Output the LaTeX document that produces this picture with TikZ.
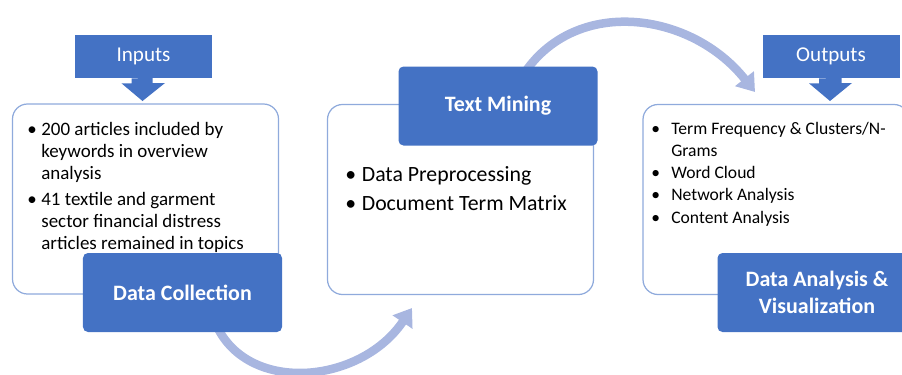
\documentclass[tikz,border=0pt]{standalone}
\usepackage{fontspec}
\setmainfont{Carlito}
\usepackage{tikz}
\usetikzlibrary{arrows.meta}
\usetikzlibrary{positioning}

\definecolor{stageblue}{RGB}{68,114,196}
\definecolor{paneledge}{RGB}{143,170,220}
\definecolor{flowarc}{RGB}{168,182,224}

% bullet line and continuation line
\newcommand{\bline}[2]{\makebox[#1][l]{\textbullet}#2}
\newcommand{\contline}[2]{\hspace*{#1}#2}

\tikzset{
    panel/.style={draw=paneledge, line width=0.7pt, fill=white, rounded corners=3mm, minimum width=53.2mm, minimum height=38mm},
    stage/.style={fill=stageblue, rounded corners=1mm, text=white, font=\bfseries\fontsize{12.5}{15}\selectfont, align=center, minimum width=39.8mm, minimum height=15.8mm},
    tag/.style={fill=stageblue, text=white, font=\fontsize{12}{14}\selectfont, minimum width=27.4mm, minimum height=8.6mm},
    bullets/.style={anchor=north west, align=left, inner sep=0pt},
    flow/.style={draw=flowarc, line width=1.7mm, -{Triangle[width=4.6mm, length=3.4mm]}}
}

\begin{document}
\begin{tikzpicture}[x=0.2mm, y=-0.2mm]

    \useasboundingbox (0,0) rectangle (902,374);
    \clip (0,0) rectangle (902,374);

    \node[panel] (P1) at (145.5,199) {};
    \node[panel] (P2) at (460.5,199.5) {};
    \node[panel] (P3) at (776,199.5) {};

    \coordinate (c1) at (215,322);
    \coordinate (c2) at (412,308);
    \coordinate (c3) at (520,80);
    \coordinate (c4) at (755,92);
    \draw[flow] (c1) .. controls (245,395) and (360,385) .. (c2);
    \draw[flow] (c3) .. controls (570,-5) and (690,10) .. (c4);

    \node[tag] (IN) at (143.5,56.5) {Inputs};
    \node[tag] (OUT) at (831,56.5) {Outputs};
    \fill[stageblue] ([xshift=-12*0.2mm]IN.south) -- ++(0,5) -- ++(-10,0) -- (142.5,101) -- (165,83) -- ++(-12.5,0) -- ++(0,-5) -- cycle;
    \fill[stageblue] ([xshift=-12*0.2mm]OUT.south) -- ++(0,5) -- ++(-10,0) -- (830,101) -- (852,83) -- ++(-10.5,0) -- ++(0,-5) -- cycle;

    \node[stage] (DC) at (182.5,292.5) {Data Collection};
    \node[stage] (TM) at (498,106) {Text Mining};
    \node[stage] (DA) at (817,292.5) {Data Analysis \&\\ Visualization};

    \node[bullets, font=\fontsize{10.8}{12.6}\selectfont] (L1) at (27,122) {%
        \bline{2.8mm}{200 articles included by}\\
        \contline{2.8mm}{keywords in overview}\\
        \contline{2.8mm}{analysis}\\[2pt]
        \bline{2.8mm}{41 textile and garment}\\
        \contline{2.8mm}{sector financial distress}\\
        \contline{2.8mm}{articles remained in topics}};
    \node[bullets, font=\fontsize{12.4}{16.5}\selectfont] (L2) at (345,166) {%
        \bline{3.3mm}{Data Preprocessing}\\
        \bline{3.3mm}{Document Term Matrix}};
    \node[bullets, font=\fontsize{10}{12.6}\selectfont] (L3) at (651,122) {%
        \bline{4mm}{Term Frequency \& Clusters/N-}\\
        \contline{4mm}{Grams}\\
        \bline{4mm}{Word Cloud}\\
        \bline{4mm}{Network Analysis}\\
        \bline{4mm}{Content Analysis}};

\end{tikzpicture}
\end{document}
